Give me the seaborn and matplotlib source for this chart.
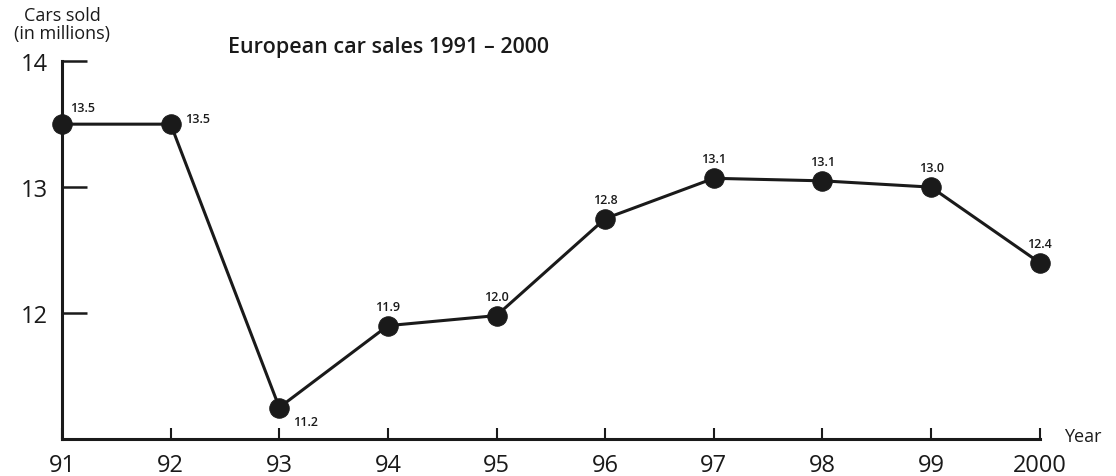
import matplotlib
matplotlib.use("Agg")
import matplotlib.pyplot as plt
import numpy as np
import pandas as pd
import seaborn as sns

years = ["91", "92", "93", "94", "95", "96", "97", "98", "99", "2000"]
sales = [13.5, 13.5, 11.25, 11.9, 11.98, 12.75, 13.07, 13.05, 13.0, 12.4]
labels = ["13.5", "13.5", "11.2", "11.9", "12.0", "12.8", "13.1", "13.1", "13.0", "12.4"]
ytick_vals = [12, 13, 14]

data = pd.DataFrame({"pos": np.arange(len(years)), "sales": sales})

sns.set_style("ticks")
plt.rcParams['font.family'] = ['Open Sans', 'DejaVu Sans']

fig = plt.figure(figsize=(11.16, 4.77), dpi=100)
ax = fig.add_axes([0.0556, 0.0776, 0.876, 0.792])

sns.lineplot(data=data, x="pos", y="sales", ax=ax, color="#1a1a1a",
             linewidth=2.2, marker="o", markersize=14,
             markeredgecolor="#1a1a1a", markerfacecolor="#1a1a1a")
for ln in ax.lines:
    ln.set_clip_on(False)

# label offsets (points), per data point
offsets = [(6, 12), (10, 4), (10, -10), (0, 14), (0, 14),
           (0, 14), (0, 14), (0, 14), (0, 14), (0, 14)]
for i, (lab, off) in enumerate(zip(labels, offsets)):
    ha = "left" if off[0] > 0 else "center"
    ax.annotate(lab, (i, sales[i]), xytext=off, textcoords="offset points",
                ha=ha, va="center", fontsize=9, fontweight="semibold",
                color="#1a1a1a")

ax.set_xlim(0, len(years) - 1)
ax.set_ylim(11, 14)
ax.set_xticks(np.arange(len(years)))
ax.set_xticklabels(years)
ax.set_yticks(ytick_vals)
ax.set_yticklabels([str(v) for v in ytick_vals])
ax.set_xlabel("")
ax.set_ylabel("")

ax.tick_params(axis="y", direction="in", length=18, width=1.8,
               labelsize=17, pad=10, colors="#1a1a1a")
ax.tick_params(axis="x", direction="in", length=8, width=1.5,
               labelsize=17, pad=10, colors="#1a1a1a")
sns.despine(ax=ax)
for s in ["left", "bottom"]:
    ax.spines[s].set_linewidth(2.2)
    ax.spines[s].set_color("#1a1a1a")

fig.text(0.056, 0.985, "Cars sold\n(in millions)", ha="center", va="top",
         fontsize=13, color="#1a1a1a", linespacing=1.0)
fig.text(0.204, 0.9, "European car sales 1991 \u2013 2000", ha="left", va="center",
         fontsize=15.5, fontweight="semibold", color="#1a1a1a")
fig.text(0.953, 0.083, "Year", ha="left", va="center", fontsize=13, color="#1a1a1a")

fig.savefig("out.png", dpi=100, facecolor="white")
